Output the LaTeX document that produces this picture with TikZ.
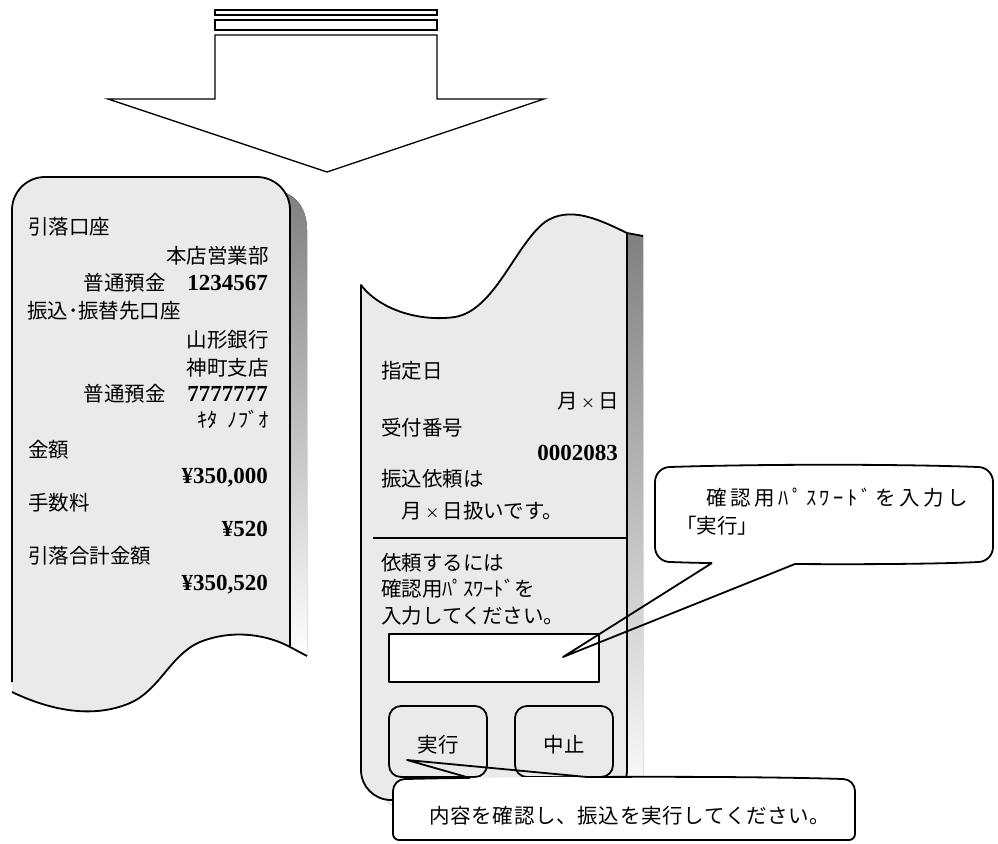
\documentclass[tikz,border=0pt]{standalone}
\usepackage{fontspec}
\newfontfamily\jpfam{Noto Sans CJK JP}
\newfontfamily\jpspfam{Noto Sans CJK JP}[LetterSpace=17.5]
\newfontfamily\jpsmfam{Noto Sans CJK JP}[LetterSpace=3.5]
\newfontfamily\numfam{Liberation Serif}
\newcommand\jpf{\jpfam\fontsize{20.5pt}{24pt}\selectfont}
\newcommand\jpspf{\jpspfam\fontsize{20.5pt}{24pt}\selectfont}
\newcommand\jpsmf{\jpsmfam\fontsize{20.5pt}{24pt}\selectfont}
\newcommand\numf{\numfam\bfseries\fontsize{23pt}{26pt}\selectfont}
\newcommand\kk{\makebox[1em]{\fontsize{14pt}{14pt}\selectfont ×}}
\definecolor{panel}{RGB}{234,234,234}
\definecolor{shade}{RGB}{128,128,128}
\tikzset{
  outl/.style={draw=black, line width=1.8pt, line join=round},
  thin/.style={draw=black, line width=1.3pt, line join=miter},
  jp/.style={inner sep=0pt, font=\jpf},
  jpsp/.style={inner sep=0pt, font=\jpspf},
  jpsm/.style={inner sep=0pt, font=\jpsmf},
  num/.style={inner sep=0pt, font=\numf},
}
\begin{document}
\begin{tikzpicture}[x=1pt,y=-1pt]
\useasboundingbox (0,0) rectangle (998,843);
\fill[white] (0,0) rectangle (998,843);

% ---- big down arrow ----
\draw[thin, fill=white] (215,10) rectangle (437,15);
\draw[thin, fill=white] (215,20) rectangle (437,30);
\draw[thin, fill=white] (215,35) -- (437,35) -- (437,99) -- (544,99) -- (327,172) -- (108,99) -- (215,99) -- cycle;

% ---- left slip ----
\fill[shade] (283,192) .. controls (297,196) and (307,210) .. (307,230) -- (307,656) -- (290,647) -- (290,210) -- cycle;
\fill[panel] (12,692) -- (12,210) .. controls (12,191.8) and (26.8,177) .. (45,177) -- (257,177) .. controls (275.2,177) and (290,191.8) .. (290,210) -- (290,647)
  .. controls (270,636) and (235,628) .. (200,642) .. controls (170,655) and (160,690) .. (130,703) .. controls (100,716) and (60,715) .. (12,692) -- cycle;
\draw[outl] (12,682) -- (12,210) .. controls (12,191.8) and (26.8,177) .. (45,177) -- (257,177) .. controls (275.2,177) and (290,191.8) .. (290,210) -- (290,647);
\draw[outl] (307,656) -- (290,647) .. controls (270,636) and (235,628) .. (200,642) .. controls (170,655) and (160,690) .. (130,703) .. controls (100,716) and (60,715) .. (12,692);

\node[jp, anchor=base west] (l1) at (28,234) {引落口座};
\node[jp, anchor=base east] (l2) at (269,263) {本店営業部};
\node[jp, anchor=base east] (l3a) at (166,290) {普通預金};
\node[num, anchor=base east] (l3b) at (268,290) {1234567};
\node[jp, anchor=base west] (l4) at (27,318) {振込･振替先口座};
\node[jp, anchor=base east] (l5) at (269,347) {山形銀行};
\node[jp, anchor=base east] (l6) at (269,375) {神町支店};
\node[jp, anchor=base east] (l7a) at (166,401) {普通預金};
\node[num, anchor=base east] (l7b) at (268,401) {7777777};
\node[jp, anchor=base east] (l8) at (269,427) {ｷﾀ\hspace{10pt}ﾉﾌﾞｵ};
\node[jp, anchor=base west] (l9) at (28,457) {金額};
\node[num, anchor=base east] (l10) at (268,483) {¥350,000};
\node[jp, anchor=base west] (l11) at (28,510) {手数料};
\node[num, anchor=base east] (l12) at (268,536) {¥520};
\node[jp, anchor=base west] (l13) at (28,563) {引落合計金額};
\node[num, anchor=base east] (l14) at (268,590) {¥350,520};

% ---- right slip ----
\fill[shade] (627,233) -- (643,236) -- (643,779) .. controls (643,795.6) and (629.6,809) .. (613,809) -- (407,809) .. controls (390.4,809) and (377,795.6) .. (377,779) -- (377,700) -- (627,700) -- cycle;
\draw[outl, fill=panel] (361,285) .. controls (380,310) and (420,322) .. (455,317) .. controls (495,310) and (515,245) .. (545,222) .. controls (570,205) and (600,220) .. (627,233)
  -- (627,770) .. controls (627,786.6) and (613.6,800) .. (597,800) -- (391,800) .. controls (374.4,800) and (361,786.6) .. (361,770) -- cycle;
\draw[outl] (627,233) -- (643,236);
\draw[outl] (373,538) -- (627,538);

\node[jp, anchor=base west] (r1) at (381,378) {指定日};
\node[jp, anchor=base east] (r2) at (619,408) {月\kk 日};
\node[jp, anchor=base west] (r3) at (381,435) {受付番号};
\node[num, anchor=base east] (r4) at (618,460) {0002083};
\node[jp, anchor=base west] (r5) at (381,486) {振込依頼は};
\node[jp, anchor=base west] (r6) at (381,518) {　月\kk 日扱いです。};
\node[jp, anchor=base west] (r7) at (381,570) {依頼するには};
\node[jp, anchor=base west] (r8) at (381,596) {確認用ﾊﾟｽﾜｰﾄﾞを};
\node[jp, anchor=base west] (r9) at (381,623) {入力してください。};

\draw[outl, fill=white] (389,634) rectangle (599,682);
\draw[outl, fill=panel, rounded corners=12] (389,706) rectangle (487,777);
\draw[outl, fill=panel, rounded corners=12] (515,706) rectangle (613,777);
\node[jp] (exec) at (438,745) {実行};
\node[jp] (stop) at (564,745) {中止};

% ---- upper callout ----
\fill[white] (670,562) .. controls (760,565) and (900,565) .. (978,562) .. controls (986.3,562) and (993,555.3) .. (993,547) -- (993,482) .. controls (993,473.7) and (986.3,467) .. (978,467)
  .. controls (900,464) and (760,464) .. (670,467) .. controls (661.7,467) and (655,473.7) .. (655,482) -- (655,547) .. controls (655,555.3) and (661.7,562) .. (670,562) -- cycle;
\draw[outl] (712,563) -- (563,657) -- (795,564) .. controls (860,564.5) and (940,564) .. (978,562) .. controls (986.3,562) and (993,555.3) .. (993,547) -- (993,482) .. controls (993,473.7) and (986.3,467) .. (978,467)
  .. controls (900,464) and (760,464) .. (670,467) .. controls (661.7,467) and (655,473.7) .. (655,482) -- (655,547) .. controls (655,555.3) and (661.7,562) .. (670,562) .. controls (685,562.5) and (700,563) .. (712,563);
\node[jpsp, anchor=base west] (c1a) at (706,505) {確認用ﾊﾟｽﾜｰﾄﾞを入力し};
\node[jp, anchor=base west] (c1b) at (676,533) {「実行」};

% ---- bottom callout ----
\fill[white] (405,779) .. controls (550,776) and (700,776) .. (843,779) .. controls (849.6,779) and (855,784.4) .. (855,791) -- (855,834) .. controls (855,837.3) and (852.3,840) .. (849,840)
  -- (399,840) .. controls (395.7,840) and (393,837.3) .. (393,834) -- (393,791) .. controls (393,784.4) and (398.4,779) .. (405,779) -- cycle;
\draw[outl] (470,778) -- (407,760) -- (587,777) .. controls (680,776.5) and (780,777) .. (843,779) .. controls (849.6,779) and (855,784.4) .. (855,791) -- (855,834) .. controls (855,837.3) and (852.3,840) .. (849,840)
  -- (399,840) .. controls (395.7,840) and (393,837.3) .. (393,834) -- (393,791) .. controls (393,784.4) and (398.4,779) .. (405,779) .. controls (430,778.5) and (450,778) .. (470,778);
\node[jpsm, anchor=base west] (c2) at (429,823) {内容を確認し、振込を実行してください。};
\end{tikzpicture}
\end{document}
